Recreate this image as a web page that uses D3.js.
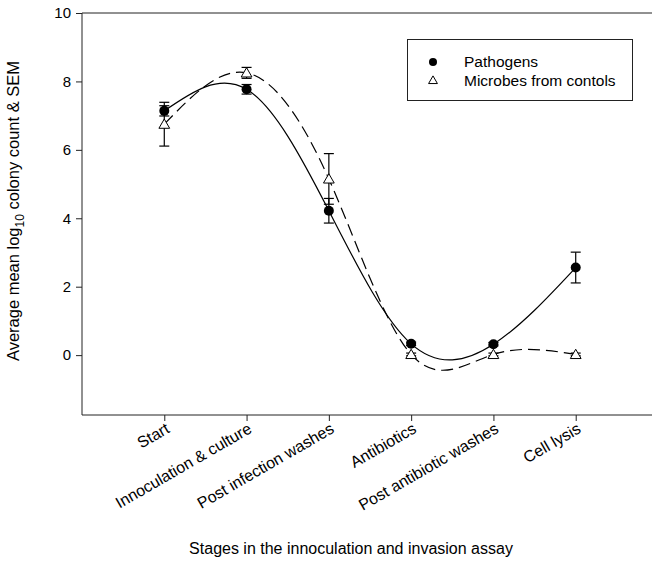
<!DOCTYPE html>
<html>
<head>
<meta charset="utf-8">
<script src="https://cdn.jsdelivr.net/npm/d3@7"></script>
<style>
  body { margin: 0; background: #fff; }
  svg { font-family: "Liberation Sans", Arial, sans-serif; }
</style>
</head>
<body>
<svg width="652" height="564"></svg>
<script>
// stages along the x axis
var stages = ["Start", "Innoculation & culture", "Post infection washes",
  "Antibiotics", "Post antibiotic washes", "Cell lysis"];

// mean log10 counts and SEM
var pathogenMeans = [7.14, 7.77, 4.22, 0.33, 0.32, 2.56];
var pathogenSem   = [0.15, 0.14, 0.36, 0.05, 0.05, 0.45];
var controlMeans  = [6.75, 8.25, 5.15, 0.02, 0.02, 0.02];
var controlSem    = [0.64, 0.16, 0.74, 0.04, 0.04, 0.04];

var yTicks = [0, 2, 4, 6, 8, 10];

var svg = d3.select("svg");

var x = d3.scaleLinear().domain([0, 7]).range([82, 658]);
var y = d3.scaleLinear().domain([-1.75, 10]).range([415, 13]);

// frame lines (left, top, bottom), no right edge
svg.append("line").attr("x1", 82).attr("x2", 660).attr("y1", 13).attr("y2", 13)
  .attr("stroke", "#222").attr("stroke-width", 1);

var yAxis = d3.axisLeft(y).tickValues(yTicks).tickSize(6).tickPadding(5).tickFormat(d3.format("d"));
var gy = svg.append("g").attr("transform", "translate(82,0)").call(yAxis);
gy.select(".domain").attr("d", "M0," + y(-1.75) + "V" + y(10));
gy.selectAll("text").attr("font-size", 15);

var xAxis = d3.axisBottom(x).tickValues(d3.range(1, 7)).tickSize(6).tickFormat(function(d) { return stages[d - 1]; });
var gx = svg.append("g").attr("transform", "translate(0,415)").call(xAxis);
gx.select(".domain").attr("d", "M82,0H660");
gx.selectAll("text")
  .attr("text-anchor", "end")
  .attr("transform", "translate(3,12) rotate(-30)")
  .attr("y", 0).attr("dy", "0.35em")
  .attr("font-size", 16);

svg.selectAll(".tick text").attr("fill", "#000").attr("font-family", "Liberation Sans, Arial, sans-serif");
svg.selectAll(".domain, .tick line").attr("stroke", "#222");

// axis titles
svg.append("text")
  .attr("x", 351).attr("y", 554)
  .attr("text-anchor", "middle").attr("font-size", 16)
  .text("Stages in the innoculation and invasion assay");

var yt = svg.append("text")
  .attr("transform", "translate(19,211) rotate(-90)")
  .attr("text-anchor", "middle").attr("font-size", 16.5);
yt.append("tspan").text("Average mean log");
yt.append("tspan").attr("font-size", 12).attr("dy", 5).text("10");
yt.append("tspan").attr("dy", -5).text(" colony count & SEM");

// curves
var line = d3.line()
  .x(function(d, i) { return x(i + 1); })
  .y(function(d) { return y(d); })
  .curve(d3.curveNatural);

svg.append("path").datum(pathogenMeans)
  .attr("d", line).attr("fill", "none").attr("stroke", "#000").attr("stroke-width", 1.2);
svg.append("path").datum(controlMeans)
  .attr("d", line).attr("fill", "none").attr("stroke", "#000").attr("stroke-width", 1.2)
  .attr("stroke-dasharray", "12,6");

// error bars
function errorBars(means, sem) {
  var g = svg.append("g").attr("stroke", "#000").attr("stroke-width", 1.2);
  means.forEach(function(m, i) {
    var cx = x(i + 1);
    g.append("line").attr("x1", cx).attr("x2", cx).attr("y1", y(m - sem[i])).attr("y2", y(m + sem[i]));
    [m - sem[i], m + sem[i]].forEach(function(v) {
      g.append("line").attr("x1", cx - 5).attr("x2", cx + 5).attr("y1", y(v)).attr("y2", y(v));
    });
  });
}
errorBars(pathogenMeans, pathogenSem);
errorBars(controlMeans, controlSem);

// markers
var tri = d3.symbol().type(d3.symbolTriangle).size(50);

svg.append("g").selectAll("path")
  .data(controlMeans).enter().append("path")
  .attr("d", tri)
  .attr("transform", function(d, i) { return "translate(" + x(i + 1) + "," + (y(d) + 1) + ")"; })
  .attr("fill", "#fff").attr("stroke", "#000").attr("stroke-width", 1);

svg.append("g").selectAll("circle")
  .data(pathogenMeans).enter().append("circle")
  .attr("cx", function(d, i) { return x(i + 1); })
  .attr("cy", function(d) { return y(d); })
  .attr("r", 5).attr("fill", "#000");

// legend
var lg = svg.append("g");
lg.append("rect").attr("x", 407.5).attr("y", 39.5).attr("width", 225).attr("height", 61)
  .attr("fill", "#fff").attr("stroke", "#222");
lg.append("circle").attr("cx", 433).attr("cy", 62).attr("r", 4).attr("fill", "#000");
lg.append("path").attr("d", d3.symbol().type(d3.symbolTriangle).size(34))
  .attr("transform", "translate(433,81)").attr("fill", "#fff").attr("stroke", "#000");
lg.append("text").attr("x", 464).attr("y", 67).attr("font-size", 15.5).text("Pathogens");
lg.append("text").attr("x", 464).attr("y", 86).attr("font-size", 15.5).text("Microbes from contols");
</script>
</body>
</html>
